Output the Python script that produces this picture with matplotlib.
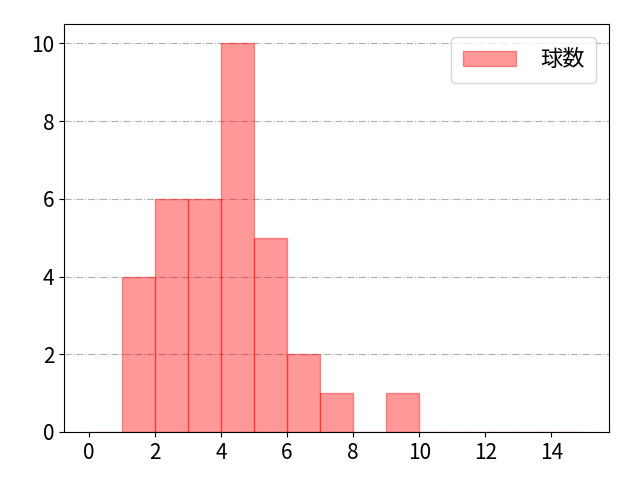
import matplotlib
matplotlib.use('Agg')
from matplotlib import pyplot as plt

plt.rcParams['font.family'] = ['Noto Sans CJK JP', 'DejaVu Sans']

# 球数の分布 (bin edges 0..15, width 1)
bin_edges = list(range(0, 16))
counts = [0, 4, 6, 6, 10, 5, 2, 1, 0, 1, 0, 0, 0, 0, 0]
label = '球数'

fig, ax = plt.subplots(figsize=(6.4, 4.8), dpi=100)
fig.subplots_adjust(left=0.1, right=0.952, top=0.95, bottom=0.1)
ax.hist(bin_edges[:-1], bins=bin_edges, weights=counts,
        color='red', alpha=0.4, edgecolor='red', label=label)

ax.set_xticks(range(0, 15, 2))
ax.set_yticks(range(0, 11, 2))
ax.tick_params(labelsize=15)
ax.grid(axis='y', linestyle='-.', color='#b0b0b0')
ax.set_axisbelow(True)
ax.legend(fontsize=16, loc='upper right', handlelength=2.4, handletextpad=1.1,
          borderpad=0.5, borderaxespad=0.6)

fig.savefig('out.png')
